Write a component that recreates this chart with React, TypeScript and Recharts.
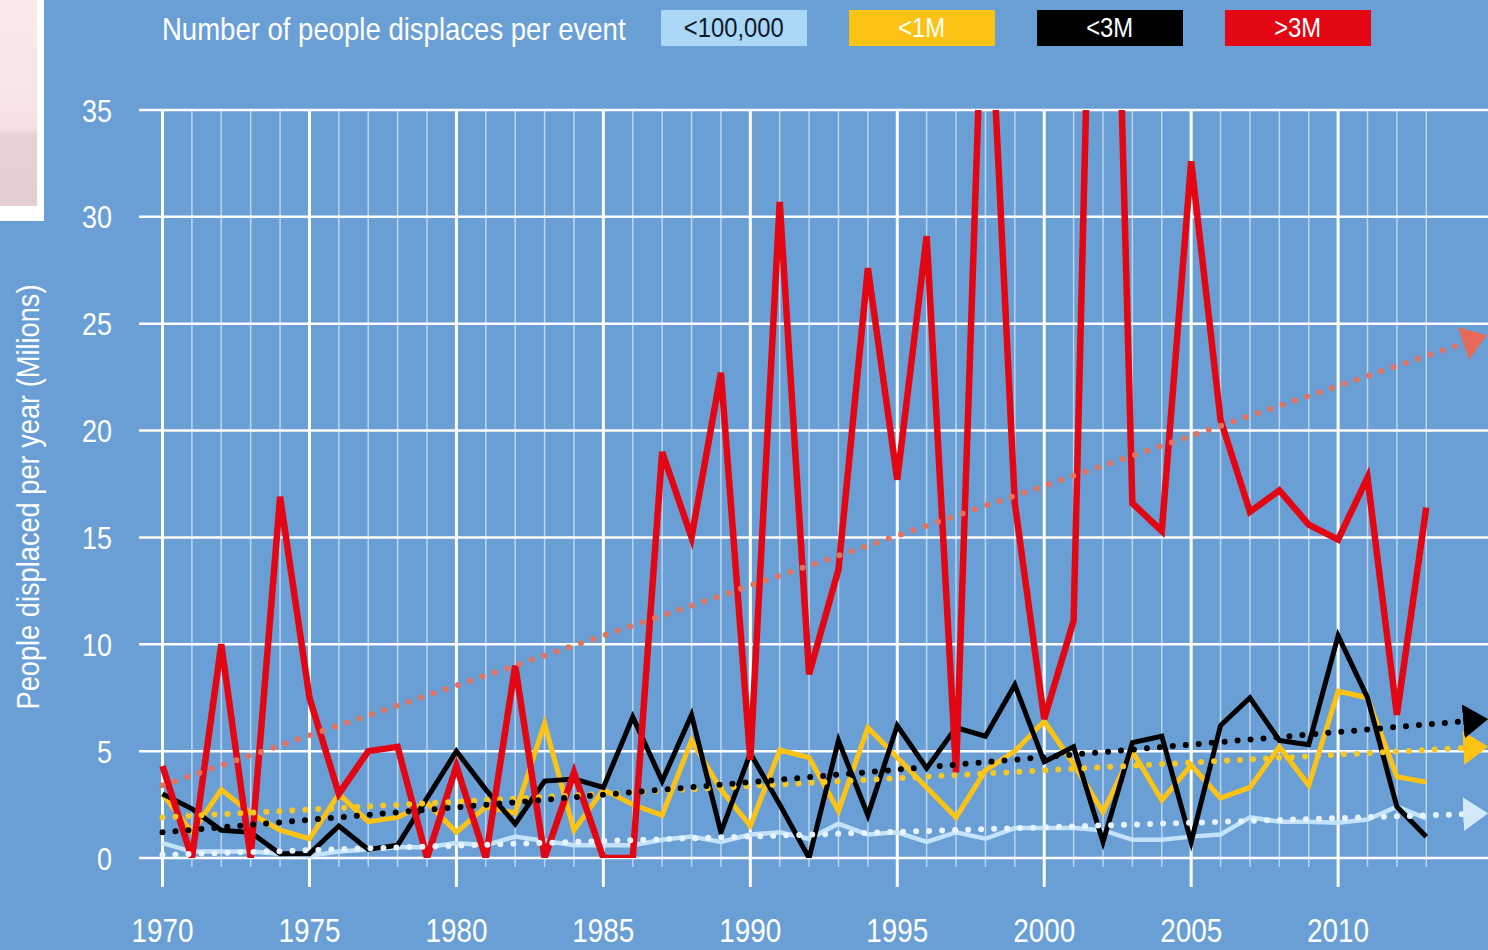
import { CartesianGrid, Label, Line, LineChart, ReferenceLine, XAxis, YAxis } from "recharts";

const YEARS = [
  1970, 1971, 1972, 1973, 1974, 1975, 1976, 1977, 1978, 1979,
  1980, 1981, 1982, 1983, 1984, 1985, 1986, 1987, 1988, 1989,
  1990, 1991, 1992, 1993, 1994, 1995, 1996, 1997, 1998, 1999,
  2000, 2001, 2002, 2003, 2004, 2005, 2006, 2007, 2008, 2009,
  2010, 2011, 2012, 2013,
];

// millions of people displaced per year, by event size
const UNDER_100K = [
  0.7, 0.3, 0.3, 0.3, 0.2, 0.1, 0.3, 0.4, 0.5, 0.5,
  0.7, 0.6, 1.0, 0.8, 0.6, 0.6, 0.6, 0.85, 1.0, 0.75,
  1.1, 1.2, 0.9, 1.6, 1.1, 1.2, 0.75, 1.2, 0.9, 1.4,
  1.4, 1.4, 1.3, 0.85, 0.85, 1.0, 1.1, 1.9, 1.7, 1.7,
  1.65, 1.8, 2.4, 1.85,
];
const UNDER_1M = [
  3.0, 1.2, 3.2, 2.1, 1.3, 0.9, 3.0, 1.7, 1.9, 2.6,
  1.2, 2.4, 2.1, 6.3, 1.3, 3.2, 2.5, 2.0, 5.5, 3.2,
  1.5, 5.05, 4.7, 2.2, 6.1, 4.7, 3.3, 1.9, 4.1, 5.0,
  6.4, 4.4, 2.15, 5.0, 2.7, 4.35, 2.8, 3.3, 5.2, 3.4,
  7.8, 7.5, 3.8, 3.55,
];
const UNDER_3M = [
  3.0, 2.3, 1.3, 1.2, 0.2, 0.2, 1.5, 0.4, 0.6, 2.8,
  5.0, 3.2, 1.6, 3.6, 3.7, 3.3, 6.6, 3.6, 6.7, 1.2,
  4.9, 2.5, 0.0, 5.5, 2.0, 6.2, 4.2, 6.1, 5.7, 8.1,
  4.5, 5.2, 0.75, 5.4, 5.7, 0.75, 6.2, 7.5, 5.5, 5.3,
  10.4, 7.5, 2.4, 1.0,
];
const OVER_3M = [
  4.3, 0, 10.0, 0, 16.9, 7.5, 3.0, 5.0, 5.2, 0,
  4.3, 0, 9.0, 0, 4.0, 0, 0, 19.0, 15.0, 22.7,
  4.6, 30.7, 8.6, 13.5, 27.6, 17.7, 29.1, 4.0, 45.0, 16.6,
  6.5, 11.1, 68.0, 16.6, 15.3, 32.6, 20.5, 16.2, 17.2, 15.6,
  14.9, 17.8, 6.7, 16.4,
];

// trend lines: start and end only
const TREND_YEARS = [1970, 2014.3];
const TREND_UNDER_100K = [0.15, 2.05];
const TREND_UNDER_1M = [1.9, 5.15];
const TREND_UNDER_3M = [1.2, 6.4];
const TREND_OVER_3M = [3.4, 24.1];

const Y_TICKS = [0, 5, 10, 15, 20, 25, 30, 35];

const BG = "#6A9FD5";
const FONT = "'Liberation Sans', Arial, sans-serif";

const SERIES = [
  { key: "under100k", label: "<100,000", color: "#C2E3FA", box: "#A9D7F5", text: "#101828", width: 4.5 },
  { key: "under1m", label: "<1M", color: "#FCC314", box: "#FCC314", text: "#FFFFFF", width: 5 },
  { key: "under3m", label: "<3M", color: "#000000", box: "#000000", text: "#FFFFFF", width: 5 },
  { key: "over3m", label: ">3M", color: "#E30613", box: "#E30613", text: "#FFFFFF", width: 6.5 },
];

const TRENDS = [
  { key: "trendUnder100k", color: "#E8F4FD", arrow: "#D3EAFA" },
  { key: "trendUnder1m", color: "#F7C820", arrow: "#FCC314" },
  { key: "trendUnder3m", color: "#000000", arrow: "#000000" },
  { key: "trendOver3m", color: "#E27360", arrow: "#E66A55" },
];

type Row = Record<string, number | undefined>;

const rows: Row[] = YEARS.map((year, i) => ({
  year,
  under100k: UNDER_100K[i],
  under1m: UNDER_1M[i],
  under3m: UNDER_3M[i],
  over3m: OVER_3M[i],
}));

TREND_YEARS.forEach((year, i) => {
  let row = rows.find((r) => r.year === year);
  if (!row) {
    row = { year };
    rows.push(row);
  }
  row.trendUnder100k = TREND_UNDER_100K[i];
  row.trendUnder1m = TREND_UNDER_1M[i];
  row.trendUnder3m = TREND_UNDER_3M[i];
  row.trendOver3m = TREND_OVER_3M[i];
});

function YearTick(props: any) {
  const { x, y, payload } = props;
  const major = payload.value % 5 === 0;
  return (
    <g>
      <line
        x1={x}
        x2={x}
        y1={y}
        y2={y + (major ? 29 : 9)}
        stroke="#FFFFFF"
        strokeWidth={major ? 3 : 1.5}
        strokeOpacity={major ? 1 : 0.55}
      />
      {major ? (
        <text
          x={x}
          y={y + 84}
          textAnchor="middle"
          fill="#FFFFFF"
          fontSize={33}
          fontFamily={FONT}
          textLength={62}
          lengthAdjust="spacingAndGlyphs"
        >
          {payload.value}
        </text>
      ) : null}
    </g>
  );
}

function ValueTick(props: any) {
  const { x, y, payload } = props;
  const s = String(payload.value);
  return (
    <text
      x={x}
      y={y + 11.5}
      textAnchor="end"
      fill="#FFFFFF"
      fontSize={32}
      fontFamily={FONT}
      textLength={s.length * 15}
      lengthAdjust="spacingAndGlyphs"
    >
      {s}
    </text>
  );
}

export default function App() {
  return (
    <div
      style={{
        position: "absolute",
        left: 0,
        top: 0,
        width: 1488,
        height: 950,
        background: BG,
        overflow: "hidden",
        fontFamily: FONT,
      }}
    >
      <svg width={0} height={0} style={{ position: "absolute" }}>
        <defs>
          {TRENDS.map((t) => (
            <marker
              key={t.key}
              id={`arrow-${t.key}`}
              viewBox="0 0 10 10"
              refX={0.5}
              refY={5}
              markerWidth={25}
              markerHeight={34}
              markerUnits="userSpaceOnUse"
              orient="auto"
              preserveAspectRatio="none"
            >
              <path d="M0,0 L10,5 L0,10 Z" fill={t.arrow} />
            </marker>
          ))}
        </defs>
      </svg>

      {/* cropped corner of the neighbouring chart */}
      <div
        style={{
          position: "absolute",
          left: 0,
          top: 0,
          width: 44,
          height: 221,
          background: "#FFFFFF",
        }}
      >
        <div
          style={{
            width: 37,
            height: 206,
            background: "linear-gradient(#FBEAEA 0%, #F6E2E2 62%, #E6D2D2 66%, #E3CFCF 100%)",
          }}
        />
      </div>

      <div
        style={{
          position: "absolute",
          left: 162,
          top: 11,
          height: 36,
          lineHeight: "36px",
          color: "#FFFFFF",
          fontSize: 32,
          whiteSpace: "nowrap",
          transform: "scaleX(0.86)",
          transformOrigin: "left center",
        }}
      >
        Number of people displaces per event
      </div>

      <div style={{ position: "absolute", left: 661, top: 10, display: "flex", gap: 42 }}>
        {SERIES.map((s) => (
          <div
            key={s.key}
            style={{
              width: 146,
              height: 36,
              background: s.box,
              color: s.text,
              fontSize: 28,
              display: "flex",
              alignItems: "center",
              justifyContent: "center",
              whiteSpace: "nowrap",
            }}
          >
            <span style={{ display: "inline-block", transform: "scaleX(0.85)" }}>{s.label}</span>
          </div>
        ))}
      </div>

      <div style={{ position: "absolute", left: 0, top: 0 }}>
        <LineChart width={1488} height={950} data={rows} margin={{ top: 110, right: 0, bottom: 0, left: 0 }}>
          <CartesianGrid vertical={false} stroke="#FFFFFF" strokeWidth={2.5} />
          {YEARS.map((yr) => (
            <ReferenceLine
              key={yr}
              x={yr}
              stroke="#FFFFFF"
              strokeWidth={yr % 5 === 0 ? 3 : 1.5}
              strokeOpacity={yr % 5 === 0 ? 1 : 0.55}
            />
          ))}
          <XAxis
            type="number"
            dataKey="year"
            domain={[1969.2, 2015.1]}
            allowDataOverflow
            ticks={YEARS}
            interval={0}
            tick={<YearTick />}
            tickLine={false}
            axisLine={false}
            tickSize={0}
            tickMargin={0}
            height={92}
          />
          <YAxis
            type="number"
            domain={[0, 35]}
            ticks={Y_TICKS}
            allowDataOverflow
            width={139}
            axisLine={false}
            tickLine={false}
            tickSize={0}
            tickMargin={27}
            tick={<ValueTick />}
          >
            <Label
              content={() => (
                <text
                  transform="translate(28,497) rotate(-90)"
                  textAnchor="middle"
                  dominantBaseline="central"
                  fill="#FFFFFF"
                  fontSize={31}
                  fontFamily={FONT}
                  textLength={425}
                  lengthAdjust="spacingAndGlyphs"
                >
                  People displaced per year (Milions)
                </text>
              )}
            />
          </YAxis>
          {SERIES.map((s) => (
            <Line
              key={s.key}
              type="linear"
              dataKey={s.key}
              stroke={s.color}
              strokeWidth={s.width}
              dot={false}
              activeDot={false}
              isAnimationActive={false}
            />
          ))}
          {TRENDS.map((t) => (
            <Line
              key={t.key}
              type="linear"
              dataKey={t.key}
              stroke={t.color}
              strokeWidth={6}
              strokeDasharray="0 13"
              strokeLinecap="round"
              connectNulls
              dot={false}
              activeDot={false}
              markerEnd={`url(#arrow-${t.key})`}
              isAnimationActive={false}
            />
          ))}
        </LineChart>
      </div>
    </div>
  );
}
